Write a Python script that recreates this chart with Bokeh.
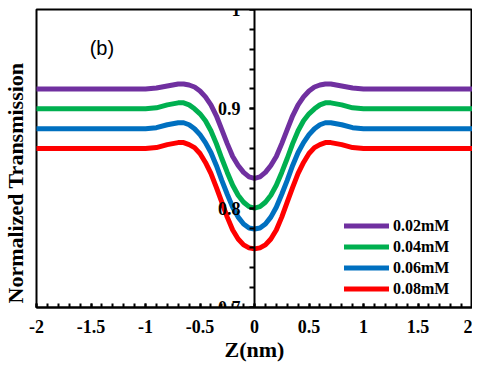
from bokeh.plotting import figure
from bokeh.models import CustomJSTickFormatter, Title, Label, Range1d, SingleIntervalTicker
from bokeh.embed import file_html
from bokeh.resources import INLINE

z = [-2.0, -1.0, -0.9, -0.8, -0.7, -0.65, -0.6, -0.55, -0.5, -0.45, -0.4, -0.35, -0.3,
     -0.25, -0.2, -0.15, -0.1, -0.05, 0.0, 0.05, 0.1, 0.15, 0.2, 0.25, 0.3, 0.35, 0.4,
     0.45, 0.5, 0.55, 0.6, 0.65, 0.7, 0.8, 0.9, 1.0, 2.0]
t_002 = [0.920, 0.920, 0.921, 0.923, 0.925, 0.925, 0.924, 0.922, 0.918, 0.912, 0.904, 0.893,
         0.879, 0.865, 0.852, 0.843, 0.836, 0.8315, 0.830, 0.8315, 0.836, 0.843, 0.852, 0.865,
         0.879, 0.893, 0.904, 0.912, 0.918, 0.922, 0.924, 0.925, 0.925, 0.923, 0.921, 0.920, 0.920]
t_004 = [0.900, 0.900, 0.901, 0.904, 0.906, 0.906, 0.904, 0.900, 0.895, 0.888, 0.878, 0.865,
         0.850, 0.836, 0.823, 0.813, 0.806, 0.8015, 0.800, 0.8015, 0.806, 0.813, 0.823, 0.836,
         0.850, 0.865, 0.878, 0.888, 0.895, 0.900, 0.904, 0.906, 0.906, 0.904, 0.901, 0.900, 0.900]
t_006 = [0.880, 0.880, 0.881, 0.884, 0.886, 0.886, 0.884, 0.880, 0.874, 0.866, 0.856, 0.843,
         0.828, 0.814, 0.801, 0.791, 0.784, 0.780, 0.779, 0.780, 0.784, 0.791, 0.801, 0.814,
         0.828, 0.843, 0.856, 0.866, 0.874, 0.880, 0.884, 0.886, 0.886, 0.884, 0.881, 0.880, 0.880]
t_008 = [0.860, 0.860, 0.861, 0.864, 0.866, 0.866, 0.864, 0.861, 0.855, 0.846, 0.835, 0.821,
         0.806, 0.791, 0.778, 0.769, 0.763, 0.760, 0.759, 0.760, 0.763, 0.769, 0.778, 0.791,
         0.806, 0.821, 0.835, 0.846, 0.855, 0.861, 0.864, 0.866, 0.866, 0.864, 0.861, 0.860, 0.860]
series = [("0.02mM", t_002, "#7030A0"), ("0.04mM", t_004, "#00B050"),
          ("0.06mM", t_006, "#0070C0"), ("0.08mM", t_008, "#FF0000")]

SERIF = "Liberation Serif"

p = figure(width=480, height=373, output_backend="svg", toolbar_location=None,
           x_range=Range1d(-2, 2), y_range=Range1d(0.7, 1.0),
           min_border_left=37, min_border_right=0, min_border_top=17, min_border_bottom=58,
           styles={"margin-top": "-8px", "margin-bottom": "-8px", "margin-left": "-8px",
                   "margin-right": "-8px"})
p.title.visible = False
p.background_fill_color = "white"
p.border_fill_color = "white"
p.outline_line_color = "black"
p.outline_line_width = 2
p.xgrid.visible = False
p.ygrid.visible = False

for name, vals, col in series:
    p.line(z, vals, line_color=col, line_width=5, line_join="round", line_cap="round",
           legend_label=name)

fmt = CustomJSTickFormatter(code="return String(+tick.toFixed(2));")

xa = p.xaxis[0]
xa.ticker = SingleIntervalTicker(interval=0.5, num_minor_ticks=5)
xa.formatter = fmt
xa.axis_line_width = 2
xa.major_tick_in = 4
xa.major_tick_out = 0
xa.minor_tick_in = 4
xa.minor_tick_out = 0
xa.major_tick_line_width = 2
xa.minor_tick_line_width = 2
xa.major_label_text_font = SERIF
xa.major_label_text_font_style = "bold"
xa.major_label_text_font_size = "18px"
xa.major_label_text_color = "black"
xa.major_label_standoff = 12
xa.axis_label = "Z(nm)"
xa.axis_label_text_font = SERIF
xa.axis_label_text_font_style = "bold"
xa.axis_label_text_font_size = "22px"
xa.axis_label_text_color = "black"
xa.axis_label_standoff = 1

ya = p.yaxis[0]
ya.fixed_location = 0
ya.ticker = SingleIntervalTicker(interval=0.1, num_minor_ticks=5)
ya.formatter = fmt
ya.axis_line_width = 2
ya.major_tick_in = 0
ya.major_tick_out = 5
ya.minor_tick_in = 0
ya.minor_tick_out = 5
ya.major_tick_line_width = 2
ya.minor_tick_line_width = 2
ya.major_label_text_font = SERIF
ya.major_label_text_font_style = "bold"
ya.major_label_text_font_size = "18px"
ya.major_label_text_color = "black"
ya.major_label_standoff = 9
ya.axis_label = None

ytitle = Title(text="Normalized Transmission", align="left", text_font=SERIF,
               text_font_style="bold", text_font_size="22px", text_color="black",
               offset=4, standoff=17)
p.add_layout(ytitle, "left")

p.add_layout(Label(x=-1.40, y=0.961, text="(b)", text_align="center", text_baseline="middle",
                   text_font="Liberation Sans", text_font_size="20px", text_color="black"))

lg = p.legend[0]
lg.location = (308, 8)
lg.background_fill_alpha = 0
lg.border_line_alpha = 0
lg.padding = 0
lg.margin = 0
lg.spacing = 0
lg.glyph_width = 45
lg.glyph_height = 21
lg.label_height = 21
lg.label_standoff = 4
lg.label_text_font = SERIF
lg.label_text_font_style = "bold"
lg.label_text_font_size = "16px"
lg.label_text_color = "black"
lg.label_text_baseline = "middle"

open("out.html", "w").write(file_html(p, INLINE))
